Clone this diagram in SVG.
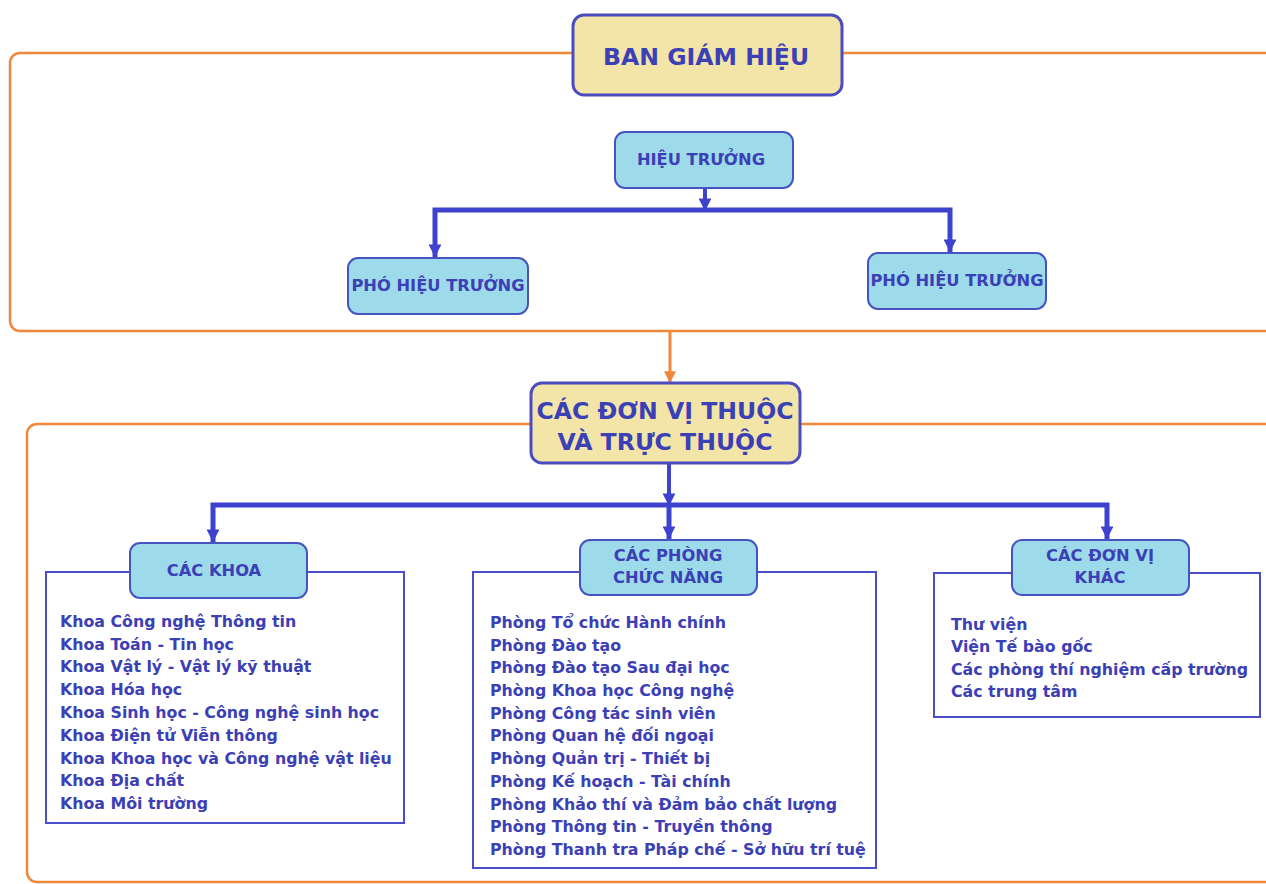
<svg xmlns="http://www.w3.org/2000/svg" width="1266" height="884" viewBox="0 0 1266 884">
<defs>
<marker id="ab" viewBox="0 0 10 10" refX="9" refY="5" markerWidth="3.2" markerHeight="3.2" orient="auto" markerUnits="strokeWidth"><path d="M0,0 L10,5 L0,10 z" fill="#3d42cf"/></marker>
<marker id="ao" viewBox="0 0 10 10" refX="9" refY="5" markerWidth="4" markerHeight="4" orient="auto" markerUnits="strokeWidth"><path d="M0,0 L10,5 L0,10 z" fill="#f0883a"/></marker>
<style>
.frame{fill:none;stroke:#f0883a;stroke-width:2.5}
.main{fill:#f3e5a8;stroke:#4a4cc0;stroke-width:3}
.sub{fill:#9edbea;stroke:#4654c2;stroke-width:2}
.list{fill:#ffffff;stroke:#4a4cc8;stroke-width:2}
.bl{fill:none;stroke:#3d42cf;stroke-width:5}
.bl2{fill:none;stroke:#3d42cf;stroke-width:4}
.or{fill:none;stroke:#f0883a;stroke-width:3}
text{font-family:"DejaVu Sans","Liberation Sans",sans-serif;font-weight:bold;fill:#3b40b6}
.h1{font-size:23.6px;text-anchor:middle}
.h2{font-size:16.3px;text-anchor:middle}
.it{font-size:15.8px}
</style>
</defs>
<rect width="1266" height="884" fill="#ffffff"/>
<g id="frames">
<rect class="frame" x="10" y="53" width="1290" height="278" rx="10"/>
<rect class="frame" x="27" y="424" width="1280" height="458" rx="10"/>
</g>
<g id="connectors">
<path class="bl2" d="M705,188 V210" marker-end="url(#ab)"/>
<path class="bl" d="M435,258 V210 H950 V253" />
<path class="bl2" d="M435,230 V256" marker-end="url(#ab)"/>
<path class="bl2" d="M950,230 V251" marker-end="url(#ab)"/>
<path class="or" d="M670,331 V382" marker-end="url(#ao)"/>
<path class="bl2" d="M669,463 V505" marker-end="url(#ab)"/>
<path class="bl" d="M213,543 V505 H1107 V540"/>
<path class="bl" d="M669,505 V540"/>
<path class="bl2" d="M213,520 V541" marker-end="url(#ab)"/>
<path class="bl2" d="M669,520 V538" marker-end="url(#ab)"/>
<path class="bl2" d="M1107,520 V538" marker-end="url(#ab)"/>
</g>
<g id="ban-giam-hieu">
<rect class="main" x="573" y="15" width="269" height="80" rx="11"/>
<text class="h1" x="706" y="65">BAN GIÁM HIỆU</text>
</g>
<g id="hieu-truong">
<rect class="sub" x="615" y="132" width="178" height="56" rx="10"/>
<text class="h2" x="701" y="165">HIỆU TRƯỞNG</text>
</g>
<g id="pho-hieu-truong-1">
<rect class="sub" x="348" y="258" width="180" height="56" rx="10"/>
<text class="h2" x="438" y="291">PHÓ HIỆU TRƯỞNG</text>
</g>
<g id="pho-hieu-truong-2">
<rect class="sub" x="868" y="253" width="178" height="56" rx="10"/>
<text class="h2" x="957" y="286">PHÓ HIỆU TRƯỞNG</text>
</g>
<g id="cac-don-vi">
<rect class="main" x="531" y="383" width="269" height="80" rx="11"/>
<text class="h1" x="665" y="419" font-size="25">CÁC ĐƠN VỊ THUỘC</text>
<text class="h1" x="665" y="450" font-size="25">VÀ TRỰC THUỘC</text>
</g>
<g id="khoa-list">
<rect class="list" x="46" y="572" width="358" height="251"/>
<text class="it" x="60" y="627">Khoa Công nghệ Thông tin</text>
<text class="it" x="60" y="650">Khoa Toán - Tin học</text>
<text class="it" x="60" y="672">Khoa Vật lý - Vật lý kỹ thuật</text>
<text class="it" x="60" y="695">Khoa Hóa học</text>
<text class="it" x="60" y="718">Khoa Sinh học - Công nghệ sinh học</text>
<text class="it" x="60" y="741">Khoa Điện tử Viễn thông</text>
<text class="it" x="60" y="764">Khoa Khoa học và Công nghệ vật liệu</text>
<text class="it" x="60" y="786">Khoa Địa chất</text>
<text class="it" x="60" y="809">Khoa Môi trường</text>
</g>
<g id="cac-khoa">
<rect class="sub" x="130" y="543" width="177" height="55" rx="10"/>
<text class="h2" x="214" y="576">CÁC KHOA</text>
</g>
<g id="phong-list">
<rect class="list" x="473" y="572" width="403" height="296"/>
<text class="it" x="490" y="628">Phòng Tổ chức Hành chính</text>
<text class="it" x="490" y="651">Phòng Đào tạo</text>
<text class="it" x="490" y="673">Phòng Đào tạo Sau đại học</text>
<text class="it" x="490" y="696">Phòng Khoa học Công nghệ</text>
<text class="it" x="490" y="719">Phòng Công tác sinh viên</text>
<text class="it" x="490" y="741">Phòng Quan hệ đối ngoại</text>
<text class="it" x="490" y="764">Phòng Quản trị - Thiết bị</text>
<text class="it" x="490" y="787">Phòng Kế hoạch - Tài chính</text>
<text class="it" x="490" y="810">Phòng Khảo thí và Đảm bảo chất lượng</text>
<text class="it" x="490" y="832">Phòng Thông tin - Truyền thông</text>
<text class="it" x="490" y="855">Phòng Thanh tra Pháp chế - Sở hữu trí tuệ</text>
</g>
<g id="cac-phong">
<rect class="sub" x="580" y="540" width="177" height="55" rx="10"/>
<text class="h2" x="668" y="561">CÁC PHÒNG</text>
<text class="h2" x="668" y="583">CHỨC NĂNG</text>
</g>
<g id="khac-list">
<rect class="list" x="934" y="573" width="326" height="144"/>
<text class="it" x="951" y="630">Thư viện</text>
<text class="it" x="951" y="652">Viện Tế bào gốc</text>
<text class="it" x="951" y="675">Các phòng thí nghiệm cấp trường</text>
<text class="it" x="951" y="697">Các trung tâm</text>
</g>
<g id="cac-don-vi-khac">
<rect class="sub" x="1012" y="540" width="177" height="55" rx="10"/>
<text class="h2" x="1100" y="561">CÁC ĐƠN VỊ</text>
<text class="h2" x="1100" y="583">KHÁC</text>
</g>
</svg>
